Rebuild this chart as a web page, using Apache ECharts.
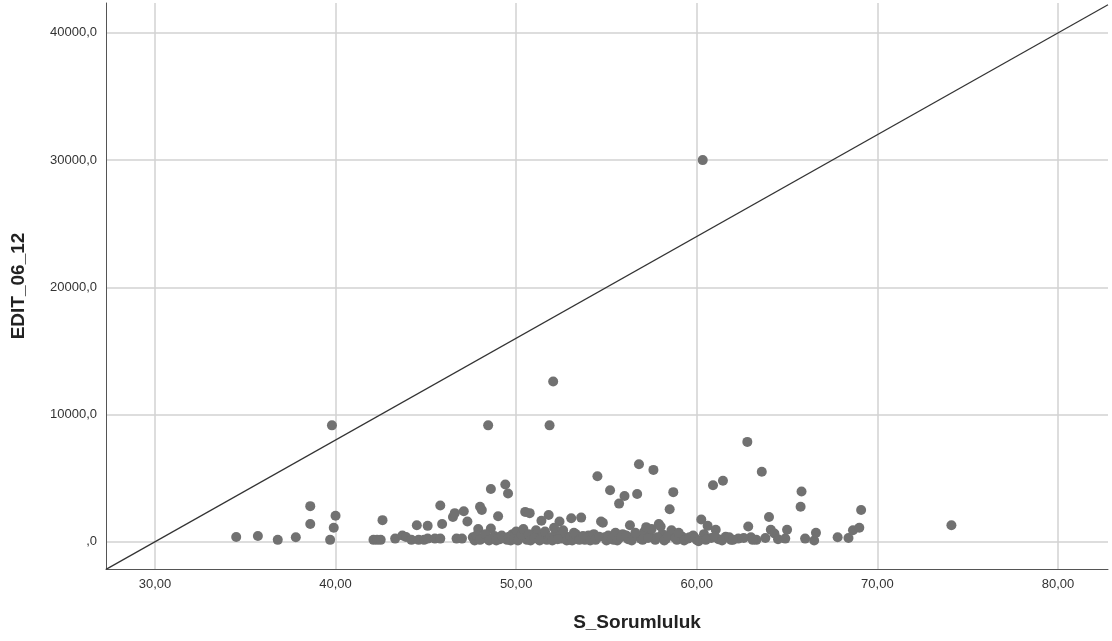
<!DOCTYPE html>
<html>
<head>
<meta charset="utf-8">
<script src="https://cdn.jsdelivr.net/npm/echarts@6/dist/echarts.min.js"></script>
<style>
  html, body { margin: 0; padding: 0; background: #fff; }
  #chart { width: 1112px; height: 641px; }
</style>
</head>
<body>
<div id="chart"></div>
<script>
// S_Sorumluluk (x) ve EDIT_06_12 (y) degerleri, sirayla eslesir
var sorumluluk = [
  34.5, 35.7, 36.8, 37.8, 38.6, 38.6, 39.7, 39.8, 39.9, 40.0,
  42.1, 42.3, 42.5, 42.6, 43.3, 43.7, 43.9, 44.2, 44.5, 44.6,
  44.9, 45.1, 45.1, 45.5, 45.8, 45.9, 45.8, 46.5, 46.6, 46.7,
  47.0, 47.1, 47.3, 47.6, 47.9, 48.0, 48.1, 48.2, 48.45, 48.6,
  48.6, 48.8, 49.0, 49.1, 49.4, 49.5, 49.55, 49.8, 50.0, 50.2,
  50.5, 50.6, 50.75, 50.9, 51.1, 51.2, 51.4, 51.5, 51.7, 51.8,
  51.85, 52.05, 52.2, 52.4, 52.5, 52.7, 52.9, 53.05, 53.2, 53.4,
  53.6, 53.8, 54.0, 54.2, 54.5, 54.7, 54.8, 54.9, 55.2, 55.4,
  55.7, 55.9, 56.0, 56.2, 56.3, 56.5, 56.7, 56.8, 56.9, 57.1,
  57.2, 57.4, 57.6, 57.7, 57.9, 58.1, 58.3, 58.5, 58.6, 58.7,
  58.9, 59.2, 59.5, 59.8, 60.0, 60.25, 60.33, 60.4, 60.6, 60.8,
  60.9, 61.05, 61.2, 61.45, 61.6, 61.9, 62.3, 62.8, 62.85, 63.0,
  63.3, 63.6, 64.0, 64.1, 64.3, 64.5, 64.9, 65.0, 65.75, 65.8,
  66.0, 66.5, 66.6, 67.8, 68.4, 68.65, 69.0, 69.1, 74.1,
  47.7, 47.8, 48.0, 48.3, 48.5, 48.7, 48.9, 49.2, 49.3, 49.6,
  49.7, 49.9, 50.1, 50.3, 50.4, 50.7, 50.8, 51.0, 51.3, 51.6,
  51.9, 52.0, 52.1, 52.3, 52.6, 52.8, 53.0, 53.1, 53.3, 53.5,
  53.7, 53.9, 54.1, 54.3, 54.4, 54.6, 55.0, 55.1, 55.3, 55.5,
  55.6, 55.8, 56.1, 56.4, 56.6, 57.0, 57.3, 57.5, 57.8, 58.0,
  58.2, 58.4, 58.8, 59.0, 59.3, 59.6, 59.9, 60.1, 60.5, 61.0,
  61.4, 61.8, 62.0, 62.6, 63.1, 63.8
];
var edit0612 = [
  370, 450, 150, 350, 2800, 1400, 150, 9150, 1100, 2050,
  150, 150, 150, 1700, 250, 500, 380, 150, 1300, 150,
  150, 1250, 250, 250, 2850, 1400, 250, 1950, 2250, 250,
  250, 2400, 1600, 350, 1000, 2750, 2500, 300, 9150, 4150,
  1050, 450, 2000, 200, 4500, 150, 3800, 600, 800, 300,
  2350, 150, 2250, 450, 900, 250, 1650, 500, 150, 2100,
  9150, 12600, 650, 1600, 250, 450, 150, 1850, 700, 300,
  1900, 150, 500, 250, 5150, 1600, 1500, 350, 4050, 150,
  3000, 600, 3600, 200, 1300, 400, 3750, 6100, 250, 800,
  1150, 450, 5650, 150, 1400, 600, 250, 2550, 900, 3900,
  150, 400, 250, 500, 150, 1750, 30000, 600, 1250, 300,
  4450, 950, 200, 4800, 400, 150, 250, 7850, 1200, 350,
  150, 5500, 1950, 950, 650, 200, 250, 950, 2750, 3950,
  250, 100, 700, 350, 300, 900, 1100, 2500, 1300,
  100, 500, 150, 600, 100, 250, 100, 500, 300, 400,
  100, 200, 100, 550, 1000, 600, 100, 300, 100, 800,
  350, 100, 1100, 200, 900, 100, 400, 100, 600, 150,
  450, 300, 100, 600, 150, 400, 100, 500, 250, 700,
  100, 350, 500, 100, 700, 150, 300, 1000, 350, 1200,
  100, 450, 300, 700, 100, 350, 300, 50, 150, 400,
  100, 350, 150, 300, 150, 300
];

var xTicks = [30, 40, 50, 60, 70, 80];
var yTicks = [0, 10000, 20000, 30000, 40000];
var xMin = 27.29, xMax = 82.77;
var yMin = -2140, yMax = 42350;
// diyagonal referans cizgisi: y = 800 * x - 24000
var refSlope = 800, refIntercept = -24000;

var points = sorumluluk.map(function (x, i) { return [x, edit0612[i]]; });
var refLine = [xMin, xMax].map(function (x) { return [x, refSlope * x + refIntercept]; });

var font = '"Liberation Sans", Arial, sans-serif';

var chart = echarts.init(document.getElementById('chart'), null, { renderer: 'canvas' });
chart.setOption({
  animation: false,
  backgroundColor: '#fff',
  grid: { left: 106, right: 4, top: 3, bottom: 72, containLabel: false },
  xAxis: {
    type: 'value',
    min: xMin,
    max: xMax,
    name: 'S_Sorumluluk',
    nameLocation: 'middle',
    nameGap: 44,
    nameTextStyle: { fontFamily: font, fontSize: 19, fontWeight: 'bold', color: '#222', padding: [0, 0, 0, 60] },
    axisLine: { show: true, onZero: false, lineStyle: { color: '#555', width: 1 } },
    axisTick: { show: false, customValues: xTicks },
    axisLabel: {
      customValues: xTicks,
      margin: 9,
      fontFamily: font, fontSize: 13, color: '#333',
      formatter: function (v) { return v.toFixed(2).replace('.', ','); }
    },
    splitLine: { show: true, lineStyle: { color: '#d2d2d2', width: 1.5 } }
  },
  yAxis: {
    type: 'value',
    min: yMin,
    max: yMax,
    name: 'EDIT_06_12',
    nameLocation: 'middle',
    nameGap: 78,
    nameRotate: 90,
    nameTextStyle: { fontFamily: font, fontSize: 19, fontWeight: 'bold', color: '#222' },
    axisLine: { show: true, onZero: false, lineStyle: { color: '#555', width: 1 } },
    axisTick: { show: false, customValues: yTicks },
    axisLabel: {
      customValues: yTicks,
      margin: 9,
      fontFamily: font, fontSize: 13, color: '#333',
      formatter: function (v) { return v === 0 ? ',0' : v.toFixed(1).replace('.', ','); }
    },
    splitLine: { show: true, lineStyle: { color: '#d2d2d2', width: 1.5 } }
  },
  series: [
    {
      type: 'line',
      data: refLine,
      symbol: 'none',
      silent: true,
      lineStyle: { color: '#333', width: 1.2 },
      z: 1
    },
    {
      type: 'scatter',
      data: points,
      symbol: 'circle',
      symbolSize: 10,
      itemStyle: { color: '#717171', opacity: 1 },
      z: 2
    }
  ]
});
</script>
</body>
</html>
